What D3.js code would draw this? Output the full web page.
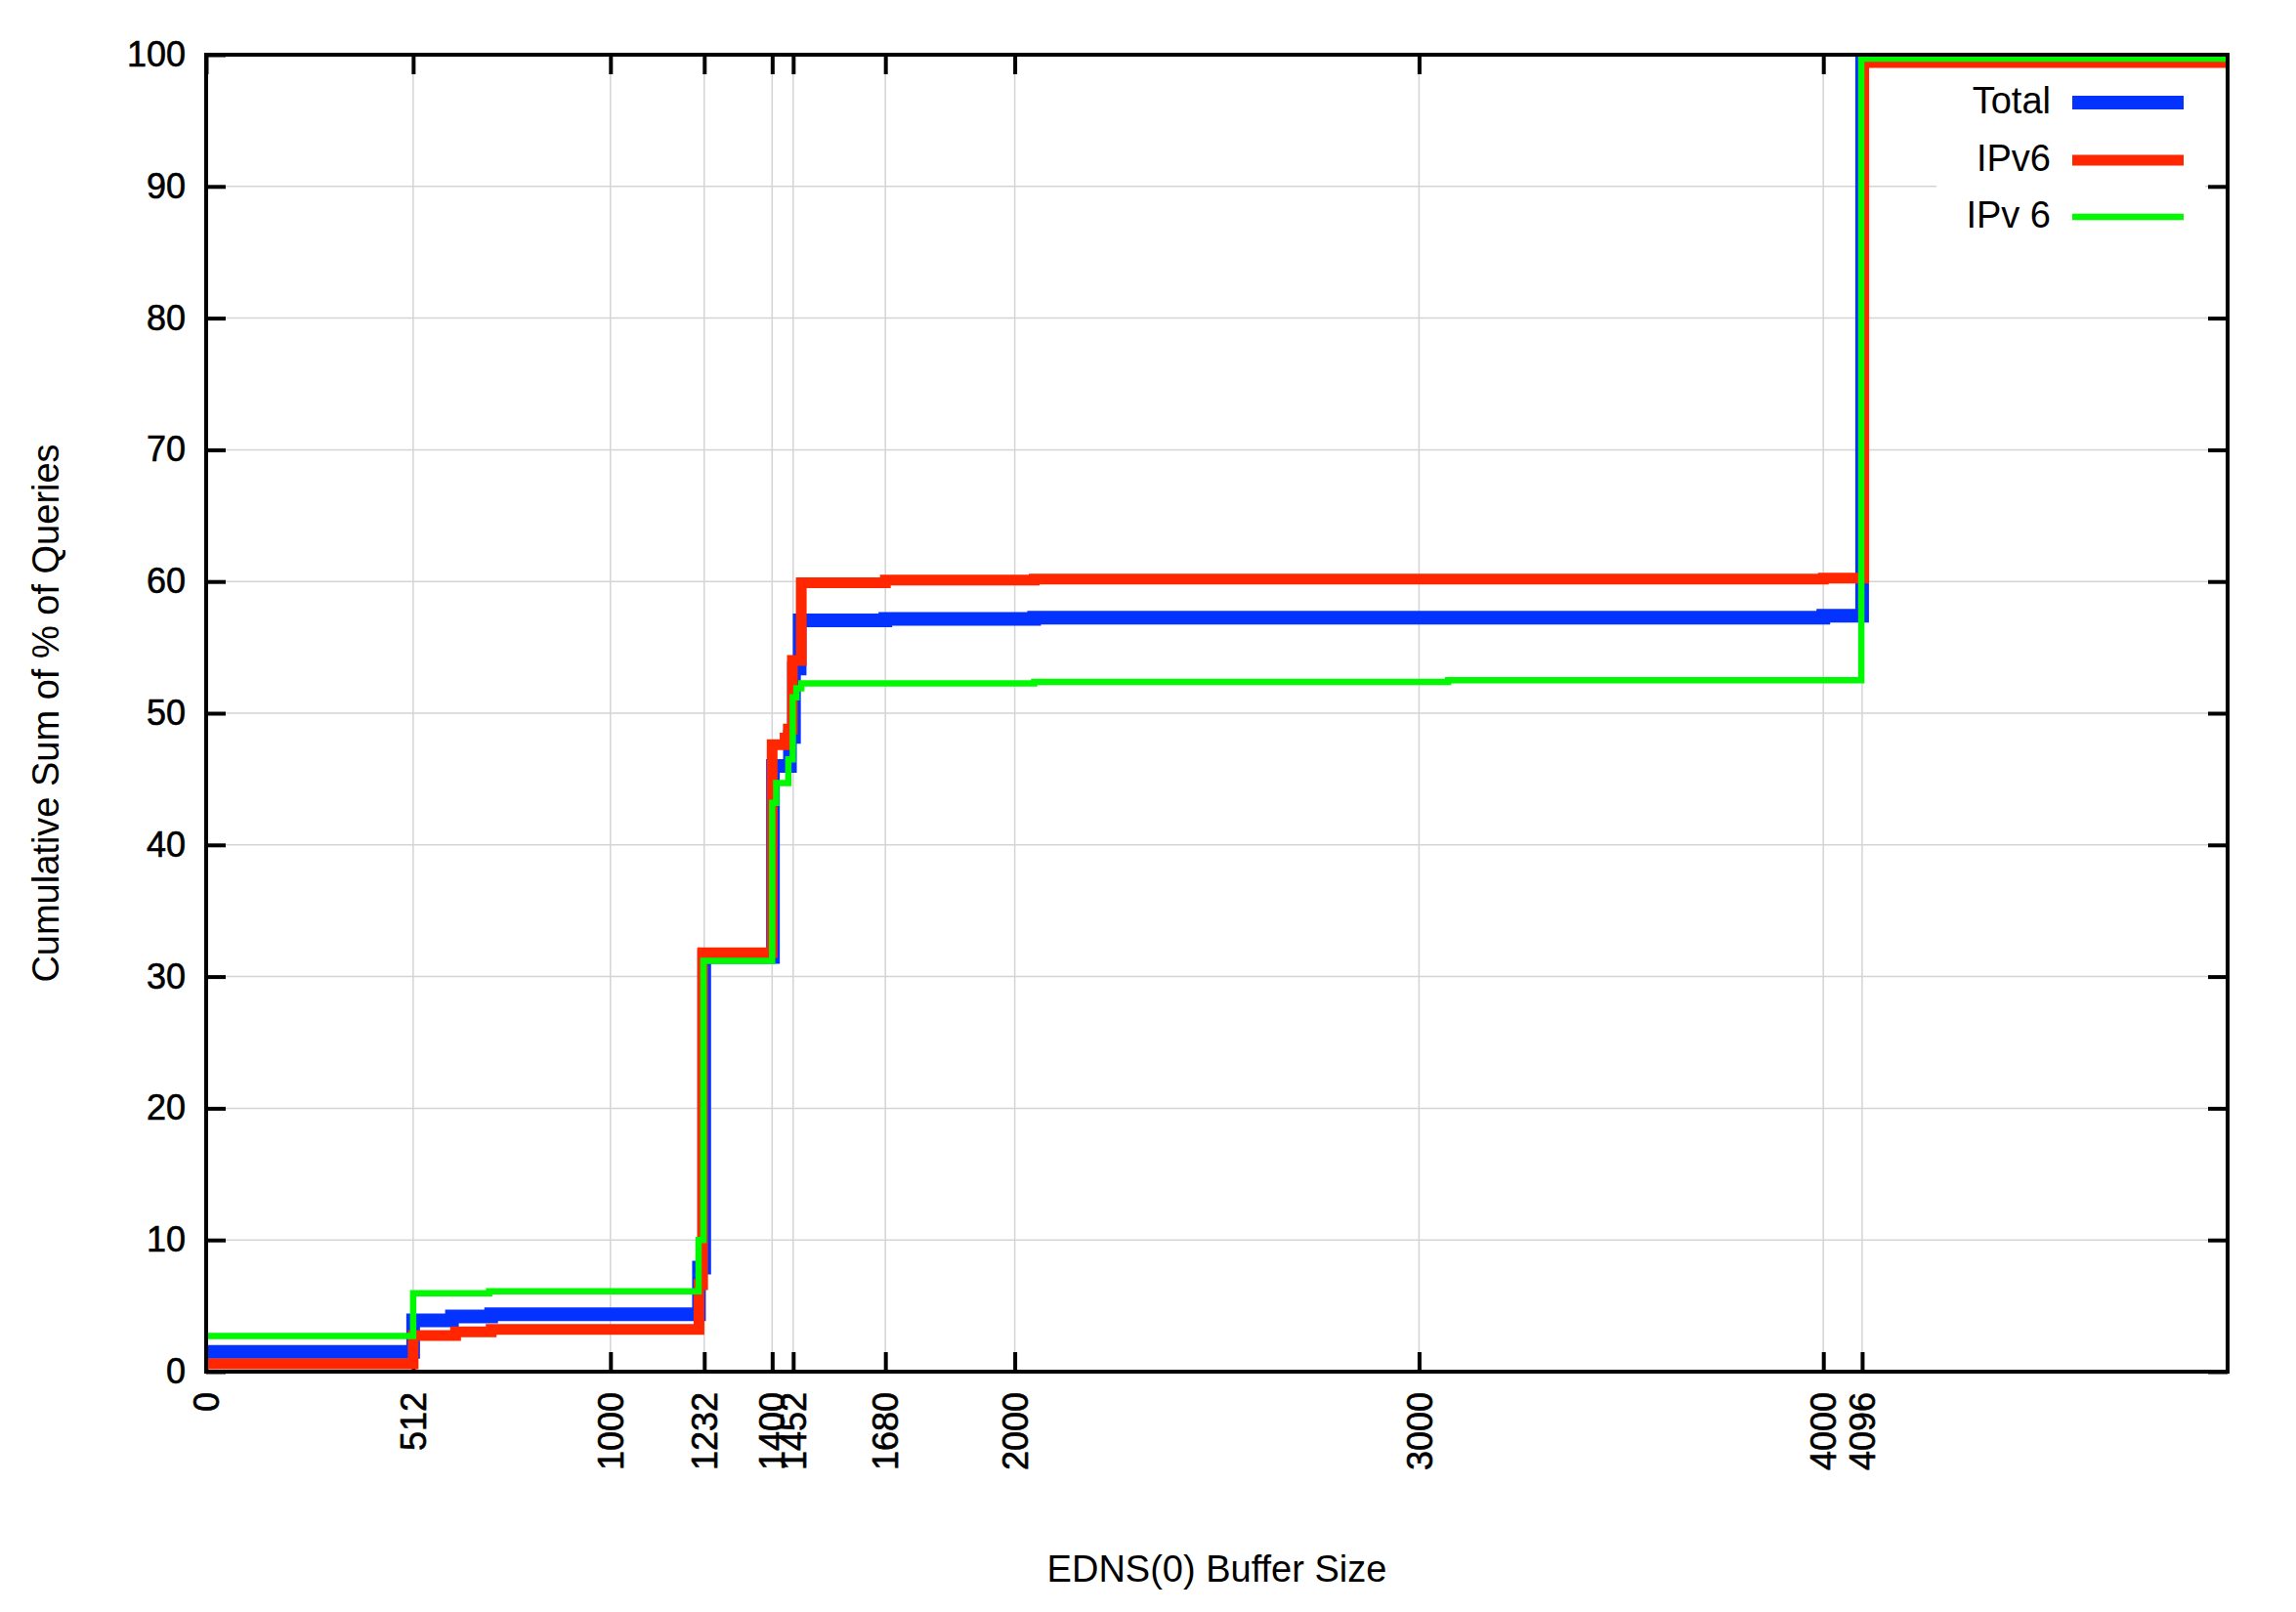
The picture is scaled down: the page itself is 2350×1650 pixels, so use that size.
<!DOCTYPE html>
<html>
<head>
<meta charset="utf-8">
<script src="https://cdn.jsdelivr.net/npm/d3@7"></script>
<style>
  body { margin: 0; background: #fff; }
  text { font-family: "Liberation Sans", Arial, Helvetica, sans-serif; }
  .tick text { stroke: #000; stroke-width: 0.6px; }
</style>
</head>
<body>
<div id="chart"></div>
<script>
// Cumulative share of queries by advertised EDNS(0) buffer size

const xTicks = [0, 512, 1000, 1232, 1400, 1452, 1680, 2000, 3000, 4000, 4096];
const yTicks = [0, 10, 20, 30, 40, 50, 60, 70, 80, 90, 100];

const seriesNames = ["Total", "IPv6", "IPv 6"];
const seriesColors = ["#0433ff", "#ff2600", "#00f900"];
const seriesWidths = [14, 11, 6.5];

// [buffer size, cumulative %] : value holds until the next size
const totalSteps = [
  [0, 1.5], [512, 3.9], [608, 4.2], [705, 4.35], [1219, 7.9], [1232, 31.5],
  [1402, 46.0], [1444, 48.2], [1454, 53.4], [1468, 57.05], [1680, 57.15],
  [2048, 57.25], [4000, 57.4], [4096, 100], [5000, 100]
];
const ipv6Steps = [
  [0, 0.6], [512, 2.75], [617, 3.03], [705, 3.2], [1219, 6.6], [1228, 31.8],
  [1400, 47.6], [1432, 48.1], [1440, 48.8], [1450, 54.0], [1472, 59.9],
  [1680, 60.1], [2048, 60.18], [4000, 60.26], [4100, 99.4], [5000, 99.4]
];
const ipv6bSteps = [
  [0, 2.7], [512, 5.95], [700, 6.1], [1218, 10.0], [1230, 31.2],
  [1400, 43.2], [1410, 44.7], [1440, 46.5], [1451, 51.2], [1460, 51.9],
  [1472, 52.27], [2048, 52.37], [3072, 52.5], [4094, 99.7], [5000, 99.7]
];

const allSteps = [totalSteps, ipv6Steps, ipv6bSteps];

const W = 2350, H = 1650;
const margin = {top: 56, right: 70, bottom: 246, left: 211};
const w = W - margin.left - margin.right;
const h = H - margin.top - margin.bottom;

const svg = d3.select("#chart").append("svg")
  .attr("width", W)
  .attr("height", H);

svg.append("rect")
  .attr("width", W)
  .attr("height", H)
  .attr("fill", "#fff");

const g = svg.append("g")
  .attr("transform", `translate(${margin.left},${margin.top})`);

const x = d3.scaleLinear().domain([0, 5000]).range([0, w]);
const y = d3.scaleLinear().domain([0, 100]).range([h, 0]);

// grid
g.append("g").selectAll("line")
  .data(xTicks.filter(d => d > 0))
  .enter().append("line")
  .attr("x1", d => x(d)).attr("x2", d => x(d))
  .attr("y1", 0).attr("y2", h)
  .attr("stroke", "#d4d4d4")
  .attr("stroke-width", 1.5);

g.append("g").selectAll("line")
  .data(yTicks.filter(d => d > 0 && d < 100))
  .enter().append("line")
  .attr("x1", 0).attr("x2", w)
  .attr("y1", d => y(d)).attr("y2", d => y(d))
  .attr("stroke", "#d4d4d4")
  .attr("stroke-width", 1.5);

// legend background hides the grid behind it
const legendBox = {x0: 1982, x1: 2257, y0: 75, y1: 250};
svg.append("rect")
  .attr("x", legendBox.x0).attr("y", legendBox.y0)
  .attr("width", legendBox.x1 - legendBox.x0)
  .attr("height", legendBox.y1 - legendBox.y0)
  .attr("fill", "#fff");

// axes, ticks pointing inward and mirrored
function styleAxis(sel) {
  sel.select(".domain").remove();
  sel.selectAll(".tick line")
    .attr("stroke", "#000")
    .attr("stroke-width", 4);
  sel.attr("font-size", 36)
    .attr("font-family", '"Liberation Sans", Arial, Helvetica, sans-serif');
  sel.selectAll(".tick text").attr("fill", "#000");
}

const xAxis = g.append("g")
  .attr("transform", `translate(0,${h})`)
  .call(d3.axisBottom(x).tickValues(xTicks).tickFormat(d3.format("d"))
    .tickSizeInner(-20).tickSizeOuter(0))
  .call(styleAxis);

xAxis.selectAll(".tick text")
  .attr("transform", "rotate(-90)")
  .attr("x", -21)
  .attr("y", 0)
  .attr("dy", "0.35em")
  .attr("text-anchor", "end");

g.append("g")
  .call(d3.axisTop(x).tickValues(xTicks).tickFormat("")
    .tickSizeInner(-20).tickSizeOuter(0))
  .call(styleAxis);

g.append("g")
  .call(d3.axisLeft(y).tickValues(yTicks).tickFormat(d3.format("d"))
    .tickSizeInner(-20).tickSizeOuter(0).tickPadding(21))
  .call(styleAxis);

g.append("g")
  .attr("transform", `translate(${w},0)`)
  .call(d3.axisRight(y).tickValues(yTicks).tickFormat("")
    .tickSizeInner(-20).tickSizeOuter(0))
  .call(styleAxis);

// step lines
svg.append("clipPath").attr("id", "plotclip")
  .append("rect")
  .attr("x", 0).attr("y", -2)
  .attr("width", w).attr("height", h + 2);

const line = d3.line()
  .x(d => x(d[0]))
  .y(d => y(d[1]))
  .curve(d3.curveStepAfter);

g.append("g")
  .attr("clip-path", "url(#plotclip)")
  .selectAll("path")
  .data(allSteps)
  .enter().append("path")
  .attr("d", line)
  .attr("fill", "none")
  .attr("stroke", (d, i) => seriesColors[i])
  .attr("stroke-width", (d, i) => seriesWidths[i]);

// border
g.append("rect")
  .attr("width", w).attr("height", h)
  .attr("fill", "none")
  .attr("stroke", "#000")
  .attr("stroke-width", 4);

// legend
const legendRows = [105, 164, 222];
const legend = svg.append("g");
seriesNames.forEach((name, i) => {
  legend.append("text")
    .attr("x", 2099)
    .attr("y", legendRows[i] + 11)
    .attr("text-anchor", "end")
    .attr("font-size", 38)
    .text(name);
  legend.append("line")
    .attr("x1", 2121).attr("x2", 2235)
    .attr("y1", legendRows[i]).attr("y2", legendRows[i])
    .attr("stroke", seriesColors[i])
    .attr("stroke-width", seriesWidths[i]);
});

// axis titles
svg.append("text")
  .attr("x", margin.left + w / 2)
  .attr("y", 1619)
  .attr("text-anchor", "middle")
  .attr("font-size", 38)
  .text("EDNS(0) Buffer Size");

svg.append("text")
  .attr("transform", `translate(60,${margin.top + h / 2}) rotate(-90)`)
  .attr("text-anchor", "middle")
  .attr("font-size", 38)
  .text("Cumulative Sum of % of Queries");
</script>
</body>
</html>
